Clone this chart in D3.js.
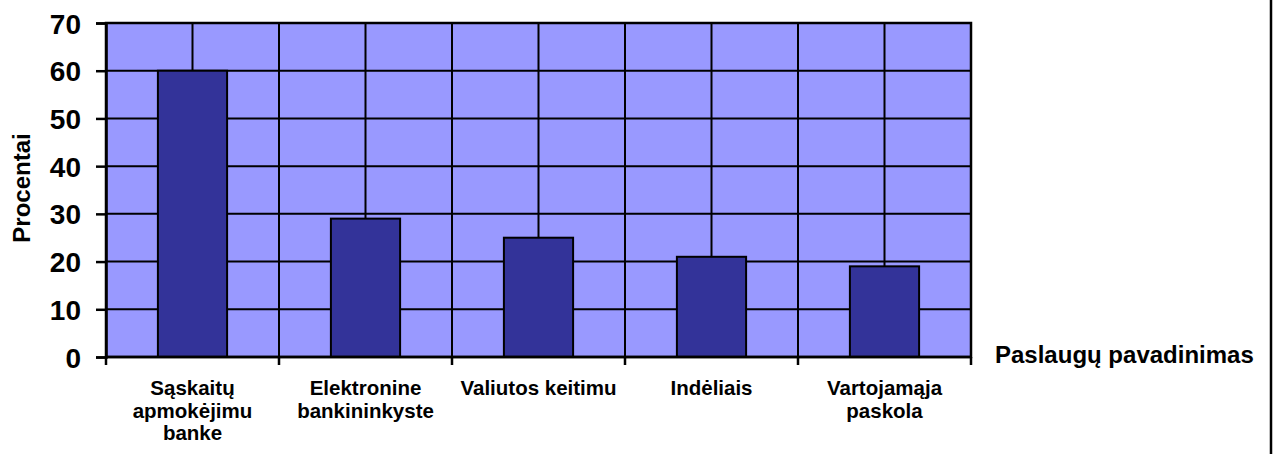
<!DOCTYPE html>
<html>
<head>
<meta charset="utf-8">
<script src="https://cdn.jsdelivr.net/npm/d3@7"></script>
<style>
  html, body { margin: 0; padding: 0; background: #fff; }
  svg { display: block; }
  text { font-family: Arial, "Liberation Sans", sans-serif; font-weight: bold; fill: #000; }
</style>
</head>
<body>
<svg id="chart" width="1274" height="454"></svg>
<script>
const categories = [
  ["Sąskaitų", "apmokėjimu", "banke"],
  ["Elektronine", "bankininkyste"],
  ["Valiutos keitimu"],
  ["Indėliais"],
  ["Vartojamąja", "paskola"]
];
const values = [60, 29, 25, 21, 19];
const yTicks = [0, 10, 20, 30, 40, 50, 60, 70];
const yTitle = "Procentai";
const xTitle = "Paslaugų pavadinimas";

const svg = d3.select("#chart");
const pLeft = 106, pRight = 971, pTop = 23, pBottom = 357;
const keys = categories.map((c, i) => i);

const x = d3.scaleBand().domain(keys).range([pLeft, pRight]).paddingInner(0.6).paddingOuter(0.3);
const y = d3.scaleLinear().domain([0, 70]).range([pBottom, pTop]);
const step = x.step();

// plot background
svg.append("rect").attr("x", pLeft).attr("y", pTop).attr("width", pRight - pLeft).attr("height", pBottom - pTop)
  .attr("fill", "#9999FF");

// horizontal gridlines
svg.append("g").selectAll("line").data(yTicks).join("line")
  .attr("x1", pLeft).attr("x2", pRight).attr("y1", d => y(d)).attr("y2", d => y(d))
  .attr("stroke", "#000").attr("stroke-width", 2);

// vertical gridlines at category boundaries and centers
const vLines = [];
keys.forEach(k => {
  const c = x(k) + x.bandwidth() / 2;
  vLines.push(c - step / 2, c);
});
vLines.push(pRight);
svg.append("g").selectAll("line").data(vLines).join("line")
  .attr("x1", d => d).attr("x2", d => d).attr("y1", pTop).attr("y2", pBottom)
  .attr("stroke", "#000").attr("stroke-width", 2);

// bars
svg.append("g").selectAll("rect").data(values).join("rect")
  .attr("x", (d, i) => x(i)).attr("width", x.bandwidth())
  .attr("y", d => y(d)).attr("height", d => y(0) - y(d))
  .attr("fill", "#333399").attr("stroke", "#000").attr("stroke-width", 2);

// plot border
svg.append("rect").attr("x", pLeft).attr("y", pTop).attr("width", pRight - pLeft).attr("height", pBottom - pTop)
  .attr("fill", "none").attr("stroke", "#000").attr("stroke-width", 2.5);

// y axis
const yAxis = svg.append("g").attr("transform", `translate(${pLeft},0)`)
  .call(d3.axisLeft(y).tickValues(yTicks).tickSize(10).tickPadding(15));
yAxis.select(".domain").attr("stroke", "#000").attr("stroke-width", 2.5);
yAxis.selectAll(".tick line").attr("stroke", "#000").attr("stroke-width", 2.5);
yAxis.selectAll(".tick text").attr("font-size", 28).attr("font-family", "Arial, 'Liberation Sans', sans-serif")
  .attr("font-weight", "bold").attr("fill", "#000").attr("dy", "0.36em");

// x axis ticks at category boundaries
const xTickPos = keys.map(k => x(k) + x.bandwidth() / 2 - step / 2).concat([pRight]);
svg.append("g").selectAll("line").data(xTickPos).join("line")
  .attr("x1", d => d).attr("x2", d => d).attr("y1", pBottom).attr("y2", pBottom + 8)
  .attr("stroke", "#000").attr("stroke-width", 2.5);
svg.append("line").attr("x1", pLeft).attr("x2", pRight).attr("y1", pBottom).attr("y2", pBottom)
  .attr("stroke", "#000").attr("stroke-width", 2.5);

// category labels
const lab = svg.append("g").selectAll("text").data(categories).join("text")
  .attr("text-anchor", "middle").attr("font-size", 20.5)
  .attr("x", (d, i) => x(i) + x.bandwidth() / 2).attr("y", 395);
lab.selectAll("tspan").data(d => d).join("tspan")
  .attr("x", function () { return d3.select(this.parentNode).attr("x"); })
  .attr("dy", (d, j) => j === 0 ? 0 : 22.5)
  .text(d => d);

// axis titles
svg.append("text").attr("transform", "translate(30,188) rotate(-90)")
  .attr("text-anchor", "middle").attr("font-size", 24).text(yTitle);
svg.append("text").attr("x", 995).attr("y", 363).attr("font-size", 24).text(xTitle);

// right frame line
svg.append("line").attr("x1", 1271).attr("x2", 1271).attr("y1", 0).attr("y2", 454)
  .attr("stroke", "#000").attr("stroke-width", 2.5);
</script>
</body>
</html>
